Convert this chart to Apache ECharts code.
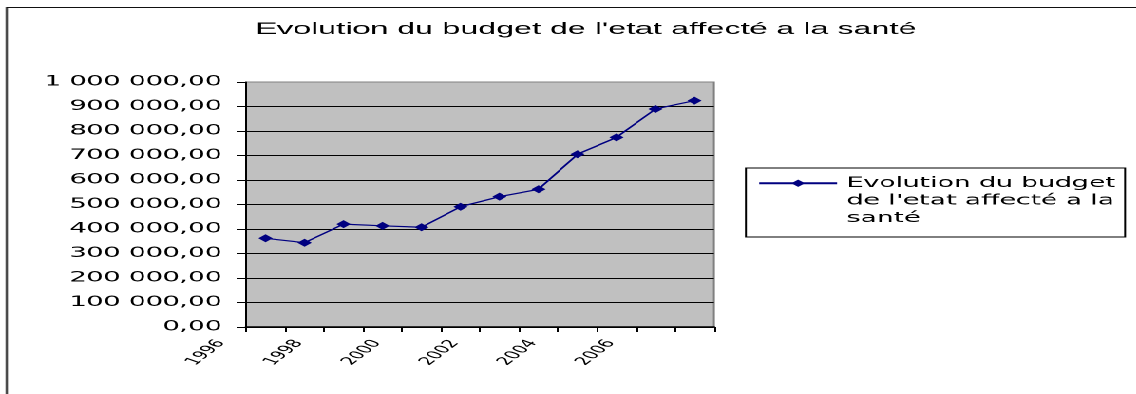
<!DOCTYPE html>
<html>
<head>
<meta charset="utf-8">
<script src="https://cdn.jsdelivr.net/npm/echarts@6/dist/echarts.min.js"></script>
<style>
  html, body { margin: 0; padding: 0; background: #fff; overflow: hidden; width: 1136px; height: 394px; }
  /* the whole drawing is laid out narrow and widened horizontally, like the stretched spreadsheet chart */
  #stage { position: absolute; left: 0; top: 0; width: 598px; height: 394px; transform: scaleX(1.9); transform-origin: 0 0; }
  #frame { position: absolute; left: 3px; top: 7px; width: 800px; height: 600px; border: 1px solid #111; }
  #chart { position: absolute; left: 0; top: 0; width: 598px; height: 394px; }
</style>
</head>
<body>
<div id="stage"><div id="frame"></div><div id="chart"></div></div>
<script>
// Budget de l'état affecté à la santé, par année
const years = [1996, 1997, 1998, 1999, 2000, 2001, 2002, 2003, 2004, 2005, 2006, 2007];
const budget = [362000, 344000, 420000, 413000, 407000, 491000, 532000, 562000, 705000, 774000, 890000, 924000];

const yMin = 0;
const yMax = 1000000;
const yStep = 100000;

const titleText = "Evolution du budget de l'etat affecté a la santé";
const legendLines = ["Evolution du budget", "de l'etat affecté a la", "santé"];

// "1 000 000,00" style numbers
function frNumber(v) {
  const s = Math.round(v).toString().replace(/\B(?=(\d{3})+(?!\d))/g, ' ');
  return s + ',00';
}

const chart = echarts.init(document.getElementById('chart'), null, { renderer: 'canvas', devicePixelRatio: 2 });

chart.setOption({
  animation: false,
  backgroundColor: 'transparent',
  title: {
    text: titleText,
    left: 308.4,
    top: 21,
    textAlign: 'center',
    padding: 0,
    textStyle: { fontFamily: 'Liberation Sans', fontSize: 17, fontWeight: 'normal', color: '#000' }
  },
  legend: {
    orient: 'vertical',
    left: 392.6,
    top: 168,
    padding: [-28.5, 5, 10, 6],
    itemWidth: 41,
    itemHeight: 9,
    borderColor: '#000',
    borderWidth: 1,
    backgroundColor: '#fff',
    // two empty lines first so the marker sits level with the first line of the name
    formatter: () => '\n\n' + legendLines.join('\n'),
    textStyle: { fontFamily: 'DejaVu Sans', fontSize: 14, lineHeight: 17.5, color: '#000' }
  },
  grid: {
    show: true,
    left: 129.5,
    right: 222.2,
    top: 82,
    bottom: 67,
    containLabel: false,
    outerBoundsMode: 'none',
    backgroundColor: '#c0c0c0',
    borderColor: '#808080',
    borderWidth: 1
  },
  xAxis: {
    type: 'value',
    min: years[0] - 0.5,
    max: years[years.length - 1] + 0.5,
    interval: 1,
    axisLine: { show: true, onZero: false, lineStyle: { color: '#000', width: 1.5 } },
    axisTick: { show: true, length: 5, lineStyle: { color: '#000', width: 1 } },
    splitLine: { show: false },
    axisLabel: {
      rotate: 55,
      margin: -4.7,
      padding: [0, 23, 0, 0],
      showMinLabel: true,
      showMaxLabel: true,
      fontFamily: 'DejaVu Sans',
      fontSize: 11,
      color: '#000',
      formatter: (v) => {
        const y = Math.round(v + 0.5);
        return (years.indexOf(y) >= 0 && (y - years[0]) % 2 === 0) ? String(y) : '';
      }
    }
  },
  yAxis: {
    type: 'value',
    min: yMin,
    max: yMax,
    interval: yStep,
    axisLine: { show: true, lineStyle: { color: '#000', width: 1 } },
    axisTick: { show: true, length: 5, lineStyle: { color: '#000', width: 1 } },
    splitLine: { show: true, showMaxLine: false, lineStyle: { color: '#000', width: 1 } },
    axisLabel: { margin: 12.7, fontFamily: 'DejaVu Sans', fontSize: 14, color: '#000', formatter: frNumber }
  },
  series: [{
    type: 'line',
    name: titleText,
    data: years.map((y, i) => [y, budget[i]]),
    symbol: 'diamond',
    symbolSize: [7.5, 8],
    itemStyle: { color: '#000080' },
    lineStyle: { color: '#000080', width: 1.2 }
  }]
});
</script>
</body>
</html>
